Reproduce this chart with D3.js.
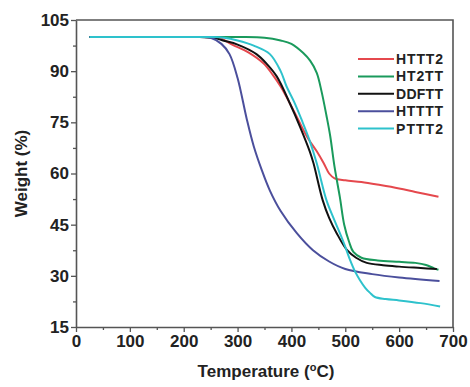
<!DOCTYPE html>
<html>
<head>
<meta charset="utf-8">
<script src="https://cdn.jsdelivr.net/npm/d3@7"></script>
<style>
  body { margin: 0; background: #fff; }
  svg text { font-family: "Liberation Sans", Arial, sans-serif; font-weight: bold; fill: #222; }
</style>
</head>
<body>
<div class="container"></div>
<script>
// series names and colours
const seriesNames = ['HTTT2', 'HT2TT', 'DDFTT', 'HTTTT', 'PTTT2']
const seriesColors = ['#e5484d', '#1a9a5c', '#111111', '#4b4f9c', '#2ec2cc']

// [temperature (°C), weight (%)]
const htttt2 = [[25,100],[150,100],[230,100],[255,99.9],[270,99.5],[290,97.8],[320,95.5],[348,92.3],[365,89],[380,85.5],[397,80.6],[415,75],[430,70.5],[447,66.5],[460,63],[470,60],[480,58.6],[500,58],[530,57.5],[565,56.6],[600,55.6],[630,54.6],[673,53.2]]
const ht2tt = [[25,100],[150,100],[300,100],[350,99.8],[380,99],[400,98],[422,95.3],[435,93],[447,89.5],[456,84],[465,77],[472,71],[480,62],[490,53],[498,45],[507,40],[515,37],[530,35.3],[560,34.5],[600,34.1],[630,33.8],[650,33.2],[665,32.2],[673,31.8]]
const ddftt = [[25,100],[150,100],[230,100],[255,99.8],[273,99],[300,97.8],[335,95],[355,92],[373,88.4],[397,80.6],[416,73.7],[434,66.5],[441,63],[458,52.2],[470,47],[484,42.5],[503,37.6],[520,35.3],[540,33.8],[570,33.1],[600,32.7],[640,32.3],[670,32]]
const htttt = [[25,100],[150,100],[230,100],[250,99.8],[270,98],[285,95],[300,88],[317,76],[330,68],[345,61],[360,55],[380,49],[410,42.5],[440,37.5],[470,34.2],[500,32],[550,30.5],[600,29.5],[675,28.5]]
const pttt2 = [[25,100],[150,100],[250,100],[275,99.8],[300,99],[330,97.5],[360,95],[380,90],[391,85.5],[405,81],[419,75.7],[433,70],[447,63],[465,52.2],[478,47],[490,42.5],[500,38.5],[509,34.6],[518,31.3],[527,28.8],[537,26.5],[546,25],[555,23.8],[575,23.2],[600,22.8],[640,22],[676,21]]
const seriesData = [htttt2, ht2tt, ddftt, htttt, pttt2]

const xTicks = [0, 100, 200, 300, 400, 500, 600, 700]
const yTicks = [15, 30, 45, 60, 75, 90, 105]

const W = 470, H = 387
const M = { left: 76, right: 17, top: 20, bottom: 60 }

const svg = d3.select('.container').append('svg')
  .attr('width', W)
  .attr('height', H)

const x = d3.scaleLinear().domain([0, 700]).range([M.left, W - M.right])
const y = d3.scaleLinear().domain([15, 105]).range([H - M.bottom, M.top])

const axisColor = '#555'

// minor ticks
svg.append('g')
  .attr('transform', `translate(0, ${y(15)})`)
  .call(d3.axisBottom(x).tickValues(d3.range(50, 700, 100)).tickSize(3).tickFormat(''))
  .call(g => g.select('.domain').remove())
  .selectAll('line').attr('stroke', axisColor).attr('stroke-width', 1.3)
svg.append('g')
  .attr('transform', `translate(${x(0)}, 0)`)
  .call(d3.axisLeft(y).tickValues(d3.range(22.5, 105, 15)).tickSize(3).tickFormat(''))
  .call(g => g.select('.domain').remove())
  .selectAll('line').attr('stroke', axisColor).attr('stroke-width', 1.3)

// major axes
const xAxis = svg.append('g')
  .attr('transform', `translate(0, ${y(15)})`)
  .call(d3.axisBottom(x).tickValues(xTicks).tickSize(5).tickSizeOuter(0).tickPadding(3))
const yAxis = svg.append('g')
  .attr('transform', `translate(${x(0)}, 0)`)
  .call(d3.axisLeft(y).tickValues(yTicks).tickSize(5).tickSizeOuter(0).tickPadding(2))

;[xAxis, yAxis].forEach(g => {
  g.select('.domain').attr('stroke', axisColor).attr('stroke-width', 1.6)
  g.selectAll('line').attr('stroke', axisColor).attr('stroke-width', 1.3)
  g.selectAll('text')
    .attr('font-size', '17px')
    .attr('font-family', '"Liberation Sans", Arial, sans-serif')
    .attr('font-weight', 'bold')
    .attr('fill', '#222')
})

// frame top and right
svg.append('path')
  .attr('d', `M${x(0)},${y(105)}H${x(700)}V${y(15)}`)
  .attr('fill', 'none')
  .attr('stroke', axisColor)
  .attr('stroke-width', 1.6)

// curves
const line = d3.line()
  .x(d => x(d[0]))
  .y(d => y(d[1]))
  .curve(d3.curveCatmullRom.alpha(0.5))

svg.append('g')
  .selectAll('path')
  .data(seriesData)
  .enter()
  .append('path')
    .attr('d', line)
    .attr('fill', 'none')
    .attr('stroke', (d, i) => seriesColors[i])
    .attr('stroke-width', 2)

// legend
const legend = svg.append('g')
  .attr('transform', 'translate(358, 59)')
legend.selectAll('g')
  .data(seriesNames)
  .enter()
  .append('g')
    .attr('transform', (d, i) => `translate(0, ${i * 17.4})`)
    .each(function (d, i) {
      const g = d3.select(this)
      g.append('line')
        .attr('x1', 0).attr('x2', 36)
        .attr('stroke', seriesColors[i])
        .attr('stroke-width', 2)
      g.append('text')
        .attr('x', 38)
        .attr('dy', '0.36em')
        .attr('font-size', '14px')
        .attr('textLength', 47)
        .text(d)
    })

// axis titles
svg.append('text')
  .attr('transform', `translate(27, ${(y(15) + y(105)) / 2}) rotate(-90)`)
  .attr('text-anchor', 'middle')
  .attr('font-size', '17px')
  .text('Weight (%)')

const xTitle = svg.append('text')
  .attr('x', 266)
  .attr('y', 377)
  .attr('text-anchor', 'middle')
  .attr('font-size', '17px')
xTitle.append('tspan').text('Temperature (')
xTitle.append('tspan').attr('font-size', '11px').attr('dy', -6).text('o')
xTitle.append('tspan').attr('dy', 6).text('C)')
</script>
</body>
</html>
